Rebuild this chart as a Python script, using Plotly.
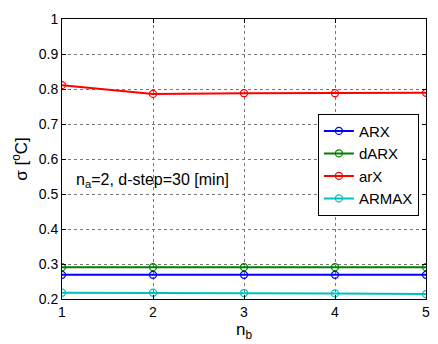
import plotly.graph_objects as go

nb = [1, 2, 3, 4, 5]
arx = [0.269, 0.269, 0.269, 0.269, 0.269]
darx = [0.291, 0.291, 0.291, 0.291, 0.291]
arx_lower = [0.811, 0.786, 0.788, 0.788, 0.789]
armax = [0.218, 0.218, 0.217, 0.216, 0.214]

names = ["ARX", "dARX", "arX", "ARMAX"]
series = [arx, darx, arx_lower, armax]
colors = ["#0000ff", "#008000", "#ff0000", "#00bfbf"]

fig = go.Figure()
for n, s, c in zip(names, series, colors):
    fig.add_trace(go.Scatter(
        x=nb, y=s, name=n, mode="lines+markers",
        line=dict(color=c, width=2),
        marker=dict(symbol="circle-open", size=7, color=c, line=dict(width=1.3, color=c)),
    ))

font = dict(family="Liberation Sans, Arial, sans-serif", size=14, color="black")
fig.update_layout(
    width=438, height=344,
    margin=dict(l=62, r=8, t=19, b=44),
    paper_bgcolor="white", plot_bgcolor="white",
    font=font,
    showlegend=True,
    legend=dict(x=0.703, y=0.662, xanchor="left", yanchor="top",
                bordercolor="black", borderwidth=1, bgcolor="white",
                font=dict(family="Liberation Sans, Arial, sans-serif", size=15, color="black"),
                tracegroupgap=0, itemwidth=30),
)
axis_common = dict(
    showline=True, linecolor="black", linewidth=1, mirror="ticks",
    ticks="inside", ticklen=4, tickcolor="black",
    showgrid=True, gridcolor="#777777", griddash="dot", gridwidth=1,
    zeroline=False,
)
fig.update_xaxes(range=[1, 5], tickvals=nb, title=dict(text="n<sub>b</sub>", standoff=4), **axis_common)
fig.update_yaxes(range=[0.2, 1],
                 tickvals=[0.2, 0.3, 0.4, 0.5, 0.6, 0.7, 0.8, 0.9, 1.0],
                 ticktext=["0.2", "0.3", "0.4", "0.5", "0.6", "0.7", "0.8", "0.9", "1"],
                 title=dict(text="σ [<sup>o</sup>C]", standoff=6), **axis_common)
fig.add_annotation(xref="paper", yref="y", x=0.033, y=0.54, xanchor="left", yanchor="middle",
                   text="n<sub>a</sub>=2, d-step=30 [min]", showarrow=False,
                   font=dict(family="Liberation Sans, Arial, sans-serif", size=16, color="black"))
fig.write_html("out.html")
